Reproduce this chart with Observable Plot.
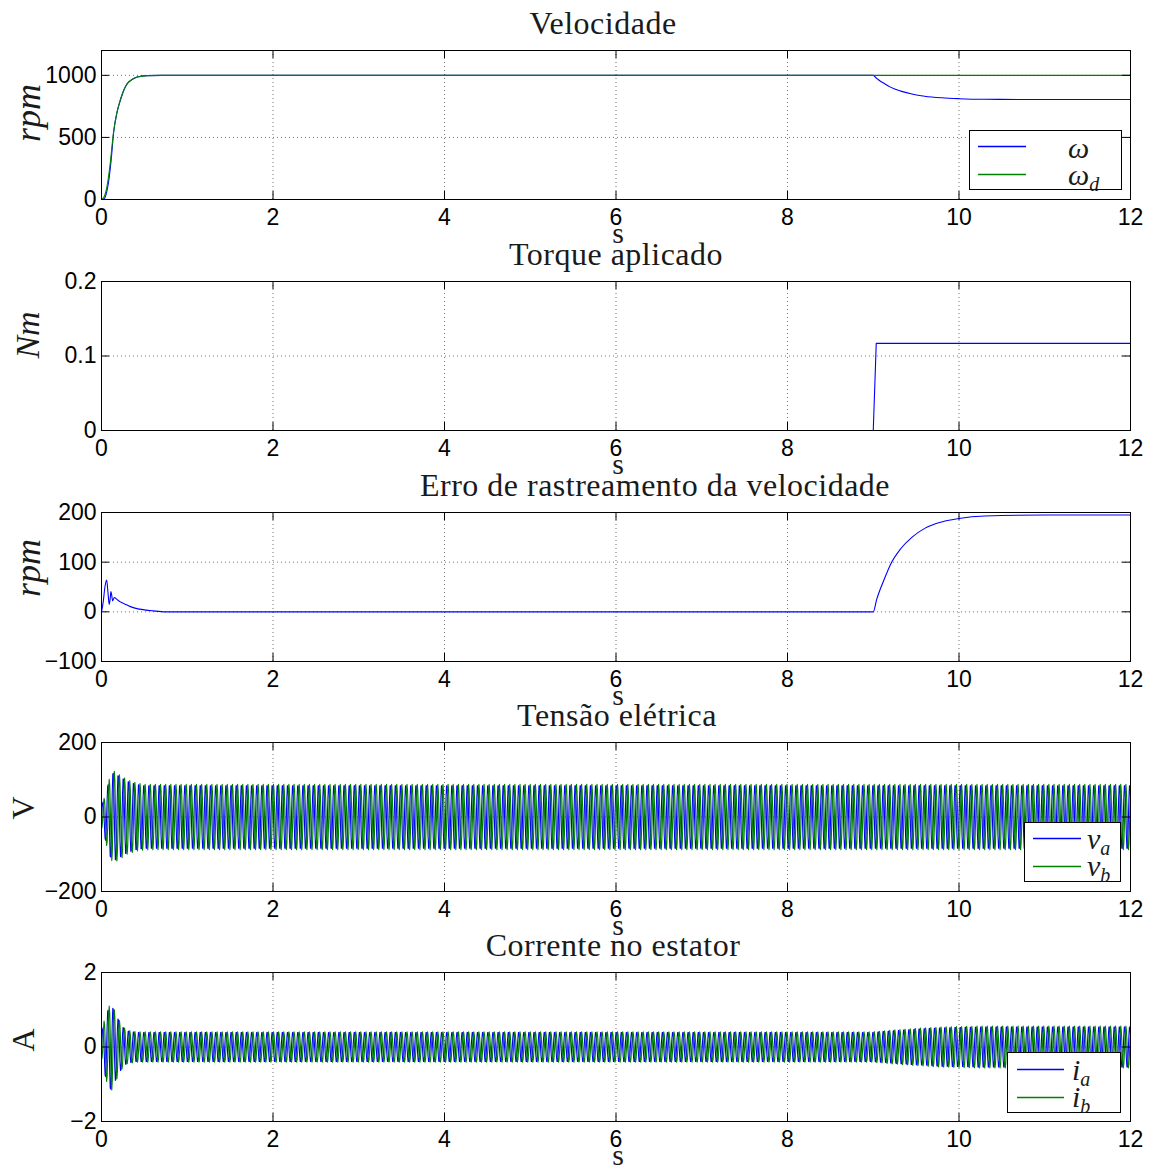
<!DOCTYPE html>
<html>
<head>
<meta charset="utf-8">
<script src="https://cdn.jsdelivr.net/npm/d3@7"></script>
<script src="https://cdn.jsdelivr.net/npm/@observablehq/plot@0.6"></script>
<style>
  html, body { margin: 0; padding: 0; background: #fff; }
  #root { position: relative; width: 1152px; height: 1166px; overflow: hidden; }
  .abs { position: absolute; }
  .title { font-family: "Liberation Serif", serif; font-size: 32px; color: #1a1a1a; white-space: nowrap; transform: translateX(-50%); line-height: 1; letter-spacing: 0.5px; }
  .xl { font-family: "Liberation Serif", serif; font-size: 30px; color: #1a1a1a; line-height: 1; transform: translateX(-50%); }
  .yl { font-family: "Liberation Serif", serif; color: #1a1a1a; white-space: nowrap; line-height: 1; transform: translate(-50%, -50%) rotate(-90deg); }
  .legend { background: #fff; border: 1px solid #000; box-sizing: border-box; }
  .ltext { position: absolute; font-family: "Liberation Serif", serif; font-style: italic; font-size: 30px; line-height: 1; color: #1a1a1a; white-space: nowrap; }
  .ltext sub { font-size: 20px; vertical-align: -6px; }
</style>
</head>
<body>
<div id="root"></div>
<script>
// ---------------- data ----------------
const xTicks = [0, 2, 4, 6, 8, 10, 12];

// Panel 1: Velocidade (rpm)
const omegaT = [0, 0.03, 0.06, 0.085, 0.11, 0.144, 0.18, 0.22, 0.26, 0.3, 0.36, 0.415, 0.53, 0.7, 9.0, 9.04, 9.08, 9.12, 9.2, 9.32, 9.45, 9.6, 9.8, 10.0, 10.3, 11, 12];
const omegaV = [0, 5, 60, 153, 300, 556, 700, 798, 880, 933, 968, 986, 998, 1000, 1000, 975, 955, 938, 905, 873, 850, 832, 819, 812, 807, 805, 805];
const omegaDT = [0, 0.03, 0.06, 0.1, 0.14, 0.18, 0.22, 0.26, 0.3, 0.36, 0.42, 0.53, 0.7, 12];
const omegaDV = [0, 20, 90, 280, 540, 700, 805, 882, 932, 968, 987, 998, 1000, 1000];

// Panel 2: Torque aplicado (Nm)
const torqueT = [0, 9.0, 9.035, 12];
const torqueV = [0, 0, 0.117, 0.117];

// Panel 3: Erro de rastreamento (rpm)
const errT = [0, 0.02, 0.04, 0.06, 0.075, 0.09, 0.1, 0.11, 0.12, 0.13, 0.15, 0.18, 0.22, 0.27, 0.33, 0.38, 0.5, 0.6, 0.75, 9.0, 9.04, 9.08, 9.12, 9.2, 9.32, 9.45, 9.6, 9.8, 10.0, 10.3, 11, 12];
const errV = [0, 20, 50, 64, 40, 15, 25, 41, 32, 22, 29, 25, 20, 16, 11, 8, 4, 2, 0, 0, 25, 45, 62, 95, 127, 150, 168, 181, 188, 193, 195, 195];

// Panel 4: Tensão elétrica (V) — envelope
const vEnvT = [0, 0.03, 0.07, 0.1, 0.14, 0.2, 0.3, 0.4, 0.5, 12];
const vEnvA = [30, 50, 85, 110, 124, 115, 100, 92, 88, 88];

// Panel 5: Corrente no estator (A) — envelope
const iEnvT = [0, 0.03, 0.07, 0.11, 0.15, 0.2, 0.25, 0.3, 0.4, 9.0, 9.2, 9.5, 9.8, 10.2, 12];
const iEnvA = [0.3, 0.7, 1.0, 1.2, 1.0, 0.75, 0.55, 0.45, 0.41, 0.41, 0.45, 0.5, 0.54, 0.56, 0.56];

const elecFreq = 16.7;   // Hz, electrical frequency (≈1000 rpm)
const samplesPerCycle = 10;

// ---------------- helpers ----------------
const zip = (T, V) => T.map((t, i) => ({t, v: V[i]}));
function carrier(envT, envA, phase) {
  const env = d3.scaleLinear().domain(envT).range(envA).clamp(true);
  const n = Math.round(12 * elecFreq * samplesPerCycle);
  const out = [];
  for (let k = 0; k <= n; k++) {
    const t = 12 * k / n;
    out.push({t, v: env(t) * Math.sin(2 * Math.PI * elecFreq * t + phase)});
  }
  return out;
}
const fmt = d => (d < 0 ? "\u2212" + Math.abs(d) : String(d));

const W = 1152, ML = 101, MR = 22, PH = 149, PW = 1152 - 101 - 22, MT = 20, MB = 40;
const BLUE = "#0000ff", GREEN = "#008000";
const root = document.getElementById("root");

function panel(top, yDomain, yTicks, series) {
  const marks = [
    Plot.gridX(xTicks, {stroke: "#000", strokeOpacity: 0.55, strokeDasharray: "1,3"}),
    Plot.gridY(yTicks, {stroke: "#000", strokeOpacity: 0.55, strokeDasharray: "1,3"}),
    ...series.map(s => Plot.line(s.data, {x: "t", y: "v", stroke: s.color, strokeWidth: 1.1, curve: s.curve || "linear", clip: true})),
    Plot.tickX(xTicks, {x: d => d, stroke: "#000", insetTop: PH - 8}),
    Plot.tickX(xTicks, {x: d => d, stroke: "#000", insetBottom: PH - 8}),
    Plot.tickY(yTicks, {y: d => d, stroke: "#000", insetRight: PW - 8}),
    Plot.tickY(yTicks, {y: d => d, stroke: "#000", insetLeft: PW - 8}),
    Plot.frame({stroke: "#000", strokeWidth: 1})
  ];
  const p = Plot.plot({
    width: W, height: PH + MT + MB,
    marginLeft: ML, marginRight: MR, marginTop: MT, marginBottom: MB,
    style: {fontFamily: "Liberation Sans, Arial, sans-serif", fontSize: "23px", color: "#000", background: "transparent", overflow: "visible"},
    x: {domain: [0, 12], ticks: xTicks, tickSize: 0, tickPadding: 9, label: null},
    y: {domain: yDomain, ticks: yTicks, tickSize: 0, tickPadding: 5, label: null, tickFormat: fmt},
    marks
  });
  const d = document.createElement("div");
  d.className = "abs";
  d.style.left = "0px";
  d.style.top = (top - MT) + "px";
  d.appendChild(p);
  root.appendChild(d);
}

function addText(cls, html, x, y, extra) {
  const d = document.createElement("div");
  d.className = "abs " + cls;
  d.style.left = x + "px";
  d.style.top = y + "px";
  if (extra) Object.assign(d.style, extra);
  d.innerHTML = html;
  root.appendChild(d);
  return d;
}

function legend(x, y, w, h, items) {
  const box = document.createElement("div");
  box.className = "abs legend";
  Object.assign(box.style, {left: x + "px", top: y + "px", width: w + "px", height: h + "px"});
  const svgNS = "http://www.w3.org/2000/svg";
  const svg = document.createElementNS(svgNS, "svg");
  svg.setAttribute("width", w);
  svg.setAttribute("height", h);
  svg.style.position = "absolute";
  svg.style.left = "-1px";
  svg.style.top = "-1px";
  items.forEach(it => {
    const ln = document.createElementNS(svgNS, "line");
    ln.setAttribute("x1", it.lx); ln.setAttribute("x2", it.lx + it.lw);
    ln.setAttribute("y1", it.ly); ln.setAttribute("y2", it.ly);
    ln.setAttribute("stroke", it.color);
    ln.setAttribute("stroke-width", 1.3);
    svg.appendChild(ln);
  });
  box.appendChild(svg);
  items.forEach(it => {
    const t = document.createElement("div");
    t.className = "ltext";
    Object.assign(t.style, {left: it.tx + "px", top: it.ty + "px"});
    t.innerHTML = it.label;
    box.appendChild(t);
  });
  root.appendChild(box);
}

// ---------------- panels ----------------
const tops = [50, 281, 512, 742, 972];

panel(tops[0], [0, 1200], [0, 500, 1000], [
  {data: zip(omegaT, omegaV), color: BLUE, curve: "monotone-x"},
  {data: zip(omegaDT, omegaDV), color: GREEN, curve: "monotone-x"}
]);
panel(tops[1], [0, 0.2], [0, 0.1, 0.2], [
  {data: zip(torqueT, torqueV), color: BLUE}
]);
panel(tops[2], [-100, 200], [-100, 0, 100, 200], [
  {data: zip(errT, errV), color: BLUE, curve: "monotone-x"}
]);
panel(tops[3], [-200, 200], [-200, 0, 200], [
  {data: carrier(vEnvT, vEnvA, 0), color: BLUE},
  {data: carrier(vEnvT, vEnvA, -Math.PI / 2), color: GREEN}
]);
panel(tops[4], [-2, 2], [-2, 0, 2], [
  {data: carrier(iEnvT, iEnvA, 0), color: BLUE},
  {data: carrier(iEnvT, iEnvA, -Math.PI / 2), color: GREEN}
]);

// ---------------- titles & labels ----------------
const titles = ["Velocidade", "Torque aplicado", "Erro de rastreamento da velocidade", "Tensão elétrica", "Corrente no estator"];
const titleX = [603, 616, 655, 617, 613];
titles.forEach((s, i) => addText("title", s, titleX[i], tops[i] - 43));
tops.forEach(t => addText("xl", "s", 618, t + 149 + 19));

const yLabels = [
  {html: "<i>rpm</i>", size: 36, x: 28, y: 113},
  {html: "<i>Nm</i>", size: 34, x: 28, y: 335},
  {html: "<i>rpm</i>", size: 36, x: 28, y: 568},
  {html: "V", size: 32, x: 23, y: 808},
  {html: "A", size: 32, x: 23, y: 1040}
];
yLabels.forEach(l => addText("yl", l.html, l.x, l.y, {fontSize: l.size + "px"}));

// ---------------- legends ----------------
legend(969, 130, 153, 60, [
  {lx: 9, ly: 16.5, lw: 48, color: BLUE, tx: 98, ty: 2, label: "ω"},
  {lx: 9, ly: 44.5, lw: 48, color: GREEN, tx: 98, ty: 29, label: "ω<sub>d</sub>"}
]);
legend(1024, 822, 97, 60, [
  {lx: 9, ly: 16.5, lw: 48, color: BLUE, tx: 62, ty: 1, label: "v<sub>a</sub>"},
  {lx: 9, ly: 44.5, lw: 48, color: GREEN, tx: 62, ty: 28, label: "v<sub>b</sub>"}
]);
legend(1007, 1052, 114, 61, [
  {lx: 10, ly: 17.5, lw: 47, color: BLUE, tx: 64, ty: 2, label: "i<sub>a</sub>"},
  {lx: 10, ly: 45.5, lw: 47, color: GREEN, tx: 64, ty: 29, label: "i<sub>b</sub>"}
]);
</script>
</body>
</html>
